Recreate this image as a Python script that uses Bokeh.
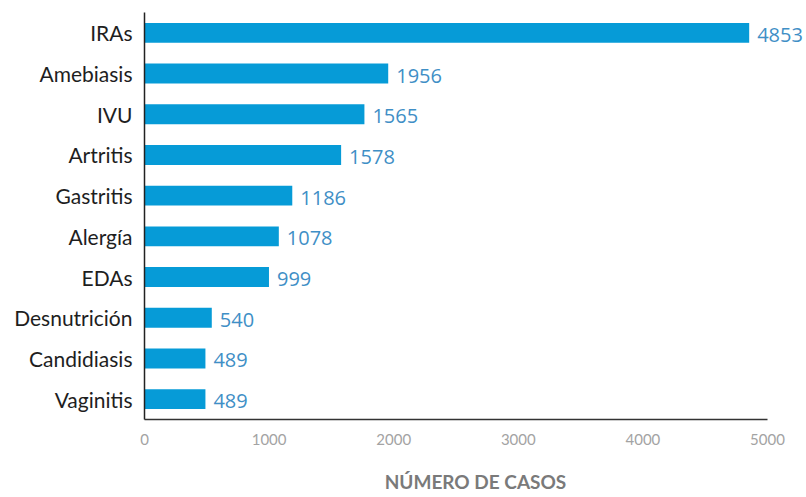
from bokeh.plotting import figure
from bokeh.models import ColumnDataSource, Range1d, FactorRange, FixedTicker, LabelSet
from bokeh.core.properties import value
from bokeh.embed import file_html
from bokeh.resources import INLINE

categories = ["IRAs", "Amebiasis", "IVU", "Artritis", "Gastritis", "Alergía",
              "EDAs", "Desnutrición", "Candidiasis", "Vaginitis"]
bar_values = [4853, 1956, 1765, 1578, 1186, 1078, 999, 540, 489, 489]
value_labels = ["4853", "1956", "1565", "1578", "1186", "1078", "999", "540", "489", "489"]
x_ticks = [0, 1000, 2000, 3000, 4000, 5000]
axis_max = 5000

src = ColumnDataSource(dict(cat=categories, val=bar_values, lab=value_labels))

p = figure(width=806, height=497, output_backend="svg", toolbar_location=None,
           y_range=FactorRange(*categories[::-1], range_padding=0),
           x_range=Range1d(0, 5313),
           min_border_left=144, min_border_top=12, min_border_right=0, min_border_bottom=78)

p.hbar(y="cat", right="val", left=0, height=0.49, source=src,
       fill_color="#069bd7", line_color=None)

labels = LabelSet(x="val", y="cat", text="lab", source=src, x_offset=8, y_offset=-2,
                  text_font=value("Open Sans"), text_font_size="20px", text_color="#3f8fc6",
                  text_baseline="middle", text_align="left")
p.add_layout(labels)

p.xgrid.visible = False
p.ygrid.visible = False
p.outline_line_color = None

xa = p.xaxis[0]
xa.bounds = (0, axis_max)
xa.ticker = FixedTicker(ticks=x_ticks)
xa.major_tick_line_color = None
xa.major_tick_out = 0
xa.major_tick_in = 0
xa.minor_tick_line_color = None
xa.axis_line_color = "#333333"
xa.axis_line_width = 1.5
xa.major_label_text_font = "Lato"
xa.major_label_text_font_size = "15px"
xa.major_label_text_color = "#a3a3a3"
xa.major_label_standoff = 14
xa.axis_label = "NÚMERO DE CASOS"
xa.axis_label_text_font = "Lato"
xa.axis_label_text_font_style = "bold"
xa.axis_label_text_font_size = "19px"
xa.axis_label_text_color = "#7a7a7a"
xa.axis_label_standoff = 22

ya = p.yaxis[0]
ya.major_tick_line_color = None
ya.major_tick_out = 0
ya.major_tick_in = 0
ya.minor_tick_line_color = None
ya.axis_line_color = "#222222"
ya.axis_line_width = 1.5
ya.major_label_text_font = "Lato"
ya.major_label_text_font_size = "21px"
ya.major_label_text_color = "#1e1e1e"
ya.major_label_standoff = 12

open("out.html", "w").write(file_html(p, INLINE))
